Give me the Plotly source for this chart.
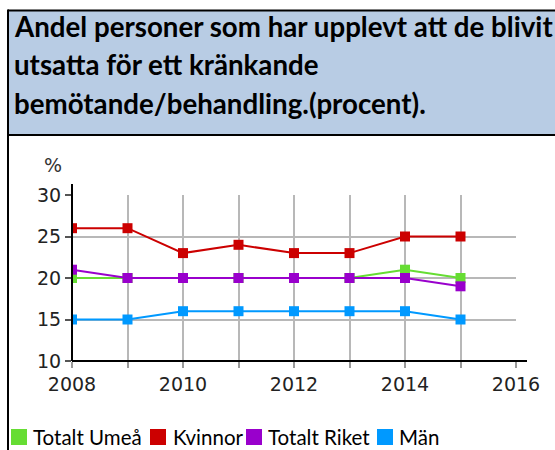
import plotly.graph_objects as go

# Survey years and shares (percent)
years = [2008, 2009, 2010, 2011, 2012, 2013, 2014, 2015]
totalt_umea = [20, 20, 20, 20, 20, 20, 21, 20]
kvinnor = [26, 26, 23, 24, 23, 23, 25, 25]
totalt_riket = [21, 20, 20, 20, 20, 20, 20, 19]
man = [15, 15, 16, 16, 16, 16, 16, 15]

series_names = ["Totalt Umeå", "Kvinnor", "Totalt Riket", "Män"]
series_values = [totalt_umea, kvinnor, totalt_riket, man]
series_colors = ["#66dd33", "#cc0000", "#9900cc", "#0099ff"]

title_lines = [
    "Andel personer som har upplevt att de blivit",
    "utsatta för ett kränkande",
    "bemötande/behandling.(procent).",
]

W, H = 555, 450
L, R, T, B = 72, 39, 195, 89
PW, PH = W - L - R, H - T - B


def px(x):
    return (x - L) / PW


def py(y):
    return (H - B - y) / PH


fig = go.Figure()
for name, vals, col in zip(series_names, series_values, series_colors):
    fig.add_trace(go.Scatter(
        x=years, y=vals, name=name, mode="lines+markers",
        line=dict(color=col, width=2),
        marker=dict(symbol="square", size=10, color=col),
        showlegend=False,
    ))

shapes = []
# header band with frame
shapes.append(dict(type="rect", xref="paper", yref="paper",
                   x0=px(8), x1=px(556), y0=py(135), y1=py(10),
                   fillcolor="#b8cce4", line=dict(width=0), layer="below"))
for (x0, y0, x1, y1) in [(8, 10.5, 556, 10.5), (8, 135, 556, 135), (8, 9.5, 8, 451)]:
    shapes.append(dict(type="line", xref="paper", yref="paper",
                       x0=px(x0), y0=py(y0), x1=px(x1), y1=py(y1),
                       line=dict(color="black", width=2)))
# axis lines
shapes.append(dict(type="line", xref="paper", yref="paper",
                   x0=0, y0=0, x1=px(527), y1=0,
                   line=dict(color="black", width=2)))
shapes.append(dict(type="line", xref="paper", yref="paper",
                   x0=0, y0=0, x1=0, y1=py(184),
                   line=dict(color="black", width=2)))

annotations = []
for i, line in enumerate(title_lines):
    annotations.append(dict(
        text="<b>" + line + "</b>", xref="paper", yref="paper",
        x=px(12), y=py(26 + 38.5 * i), xanchor="left", yanchor="middle",
        showarrow=False, font=dict(family="Lato", size=27.7, color="black")))
annotations.append(dict(
    text="%", xref="paper", yref="paper", x=px(53), y=py(165),
    xanchor="center", yanchor="middle", showarrow=False,
    font=dict(family="DejaVu Sans", size=19, color="#333")))

# legend row
sq_x = [11, 150, 246, 377]
txt_x = [31, 171, 266, 397]
for name, col, sx, tx in zip(series_names, series_colors, sq_x, txt_x):
    shapes.append(dict(type="rect", xref="paper", yref="paper",
                       x0=px(sx), x1=px(sx + 16), y0=py(445), y1=py(429),
                       fillcolor=col, line=dict(width=0)))
    annotations.append(dict(
        text=name, xref="paper", yref="paper", x=px(tx), y=py(437),
        xanchor="left", yanchor="middle", showarrow=False,
        font=dict(family="Lato", size=20.5, color="black")))

grid = "#b8b8b8"
fig.update_layout(
    width=W, height=H,
    margin=dict(l=L, r=R, t=T, b=B, pad=0),
    paper_bgcolor="white", plot_bgcolor="white",
    shapes=shapes, annotations=annotations,
    xaxis=dict(range=[2008, 2016], tick0=2008, dtick=2,
               showgrid=True, gridcolor=grid, gridwidth=2,
               ticks="outside", ticklen=6, tickwidth=2, tickcolor="#999",
               showline=False, zeroline=False,
               tickfont=dict(family="DejaVu Sans", size=19, color="#222"),
               minor=dict(dtick=1, tick0=2008, showgrid=True, gridcolor=grid,
                          gridwidth=2, ticks="outside", ticklen=6,
                          tickwidth=2, tickcolor="#999")),
    yaxis=dict(range=[10, 30], tick0=10, dtick=5,
               showgrid=True, gridcolor=grid, gridwidth=2,
               ticks="outside", ticklen=6, tickwidth=2, tickcolor="#555",
               showline=False, zeroline=False,
               tickfont=dict(family="DejaVu Sans", size=19, color="#222")),
)

fig.write_html("out.html")
